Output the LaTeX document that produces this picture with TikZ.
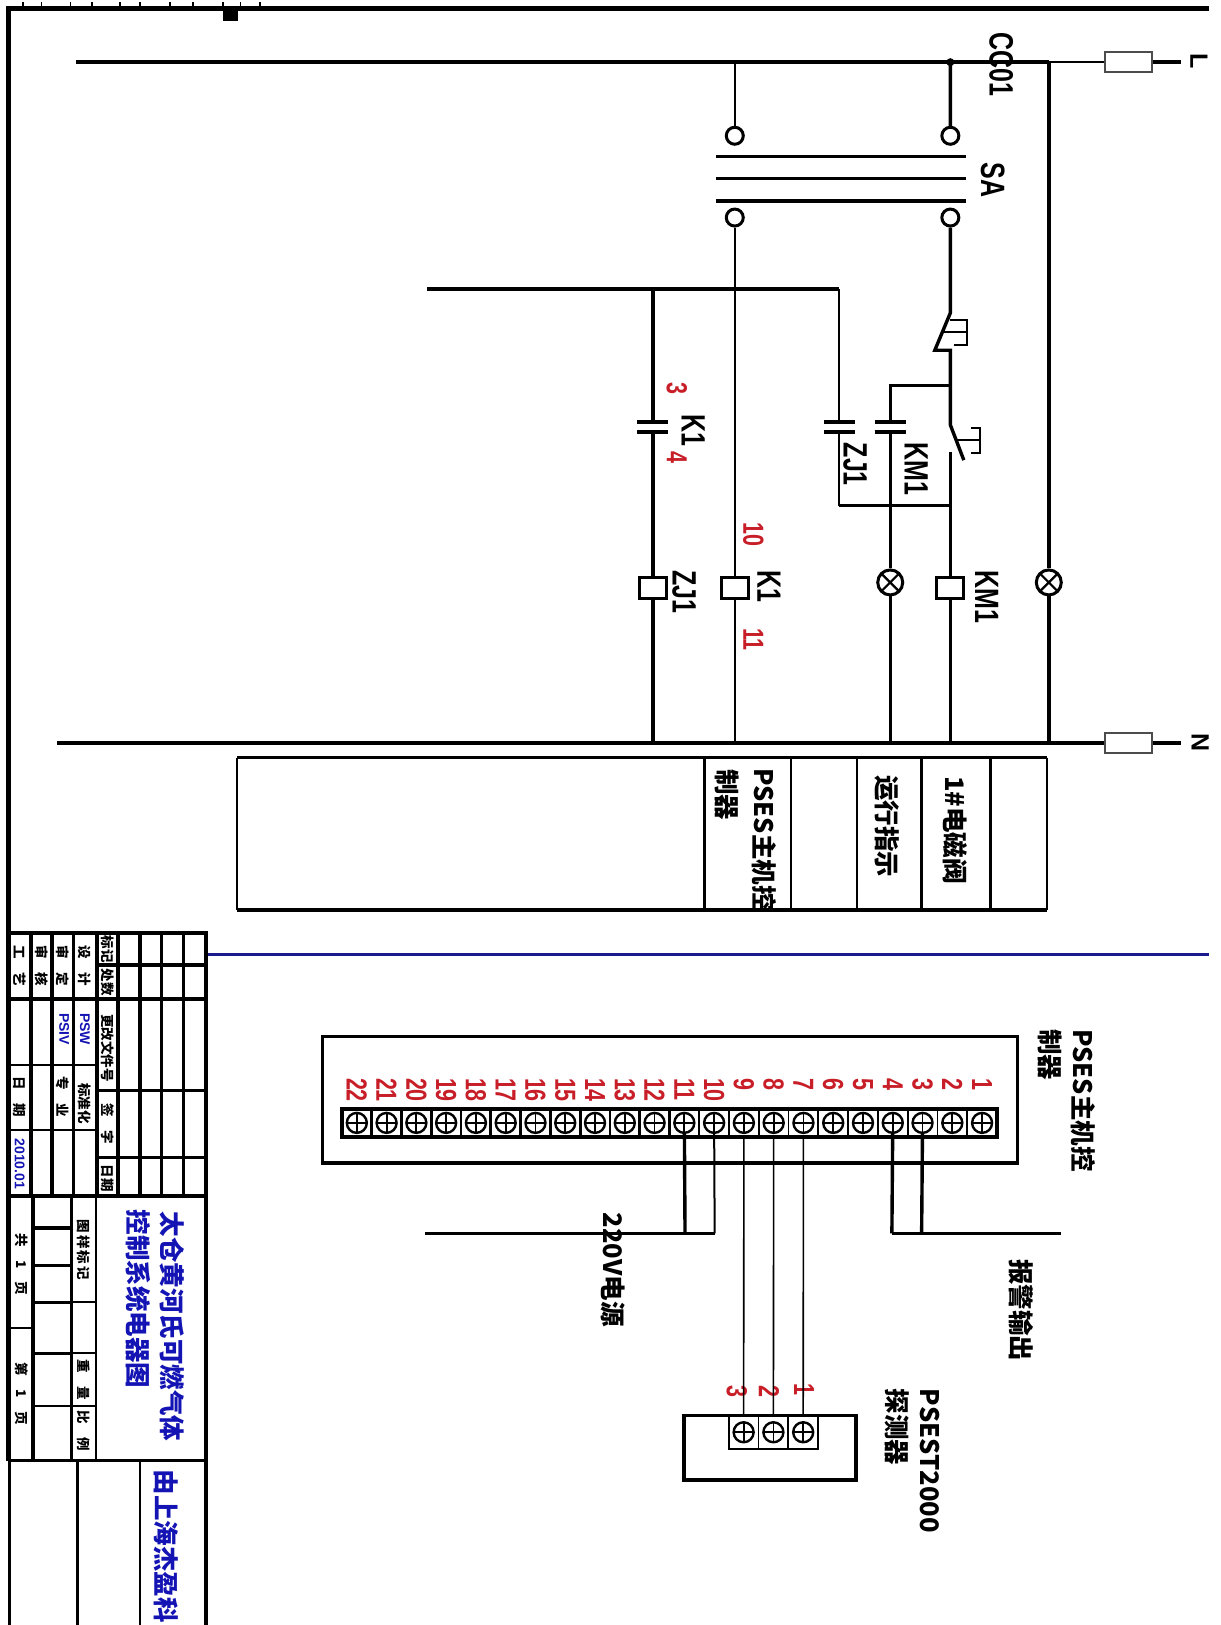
\documentclass[tikz,border=0pt]{standalone}
\usepackage{fontspec}
\usepackage{graphicx}
\usepackage{xcolor}
\usepackage{tikz}
\usetikzlibrary{positioning}
\setmainfont{Liberation Sans}
\newfontfamily\cjk{Noto Sans CJK SC}
\definecolor{titleblue}{HTML}{1414B4}
\definecolor{lineblue}{HTML}{1A1A8C}
\definecolor{termred}{HTML}{C81E28}
\newcommand{\widelbl}[1]{\scalebox{1}[1.35]{#1}}

\begin{document}
\begin{tikzpicture}[x=1.0365pt,y=-1.0365pt]
	\tikzstyle{wire}=[line width=3.4pt]
	\tikzstyle{thinwire}=[line width=2pt]
	\tikzstyle{hair}=[line width=1.6pt]
	\tikzstyle{ring}
	  =[draw, circle, line width=3pt, minimum size=17pt, inner sep=0pt, fill=white]
	\tikzstyle{lamp}
	  =[draw, circle, line width=3pt, minimum size=25pt, inner sep=0pt, fill=white,
	  path picture={\draw[line width=2.2pt] (path picture bounding box.north west) -- (path picture bounding box.south east)
	    (path picture bounding box.north east) -- (path picture bounding box.south west);}]
	\tikzstyle{coil}
	  =[draw, rectangle, line width=3pt, minimum width=27pt, minimum height=21pt, inner sep=0pt, fill=white]
	\tikzstyle{fuse}
	  =[draw=black!70, rectangle, line width=1.5pt, minimum width=47pt, minimum height=20pt, inner sep=0pt]
	\tikzstyle{contact}
	  =[rectangle, minimum width=31pt, minimum height=10pt, inner sep=0pt, outer sep=0pt]
	\tikzstyle{cell}
	  =[draw, rectangle, line width=1.8pt, minimum width=29.78pt, minimum height=28pt, inner sep=0pt, outer sep=0pt, fill=white]
	\tikzstyle{screw}
	  =[draw, circle, line width=2.4pt, minimum size=20pt, inner sep=0pt,
	  path picture={\draw[line width=1.8pt] (path picture bounding box.north) -- (path picture bounding box.south)
	    (path picture bounding box.east) -- (path picture bounding box.west);}]
	\tikzstyle{blk}
	  =[rotate=-90, inner sep=0pt, anchor=west, font=\fontsize{25}{25}\selectfont\bfseries]
	\tikzstyle{cn}
	  =[rotate=-90, inner sep=0pt, anchor=west, font=\fontsize{25.5}{25.5}\selectfont\bfseries\cjk]
	\tikzstyle{rno}
	  =[rotate=-90, inner sep=0pt, text=termred, font=\fontsize{21.5}{21.5}\selectfont\bfseries]
	\tikzstyle{tb}
	  =[rotate=-90, inner sep=0pt, font=\fontsize{13.5}{13.5}\selectfont\bfseries\cjk]

	\clip (0,0) rectangle (1178,1568);
	\fill[white] (0,0) rectangle (1178,1568);

	% sheet border
	\draw[line width=5.2pt] (1167,8) -- (8,8) -- (8,1410);
	\draw[line width=3.2pt] (9,1410) -- (9,1568);
	\foreach \tx in {22,40,68,89,116,135,164,186,215,232,251}
	  \draw[line width=1.6pt] (\tx,2) -- (\tx,7);
	\fill (215,8) rectangle (230,20);

	% fuses and bus ends
	\node[fuse] (fuseL)
	  at (1089,60) {};
	\node[fuse] (fuseN)
	  at (1089,717) {};
	\coordinate (LW) at (73,60);
	\coordinate (LE) at (1140,60);
	\coordinate (NW) at (55,717);
	\coordinate (NE) at (1140,717);
	\coordinate (LTapA) at (709,60);
	\coordinate (LTapB) at (917,60);
	\coordinate (LTapC) at (1012,60);
	\draw[wire] (LW) -- (LTapC);
	\draw[thinwire] (LTapC) -- (fuseL);
	\draw[wire] (fuseL) -- (LE);
	\draw[wire] (NW) -- (fuseN);
	\draw[wire] (fuseN) -- (NE);
	\node[blk] (lblL)
	  at (1157,51) {L};
	\node[blk] (lblN)
	  at (1158,708) {N};
	\fill (LTapB) circle (4pt);

	% selector SA
	\node[ring] (ringTL)
	  at (709,131) {};
	\node[ring] (ringTR)
	  [right=195.6pt of ringTL] {};
	\node[ring] (ringBL)
	  [below=61.8pt of ringTL] {};
	\node[ring] (ringBR)
	  [below=61.8pt of ringTR] {};
	\coordinate (saA) at (691,151);
	\coordinate (saB) at (932,151);
	\coordinate (saC) at (691,172);
	\coordinate (saD) at (932,172);
	\coordinate (saE) at (691,194);
	\coordinate (saF) at (932,194);
	\draw[wire] (saA) -- (saB);
	\draw[wire] (saC) -- (saD);
	\draw[wire] (saE) -- (saF);
	\draw[thinwire] (LTapA) -- (ringTL);
	\draw[wire] (LTapB) -- (ringTR);

	% coils, lamps, contacts
	\node[coil] (coilZJ)
	  at (630,567) {};
	\node[coil] (coilK)
	  at (709,567) {};
	\node[coil] (coilKM)
	  at (917,567) {};
	\node[lamp] (lampRun)
	  at (859,562) {};
	\node[lamp] (lampPow)
	  at (1012,562) {};
	\node[contact] (conK)
	  at (630,412) {};
	\node[contact] (conZJ)
	  at (810,412) {};
	\node[contact] (conKM)
	  at (859,412) {};
	\foreach \c in {conK,conZJ,conKM}
	  \draw[wire] (\c.north west) -- (\c.north east)
	    (\c.south west) -- (\c.south east);

	% named tee points
	\coordinate (feedW) at (412,279);
	\coordinate (feedA) at (630,279);
	\coordinate (feedB) at (810,279);
	\coordinate (sealL) at (810,488);
	\coordinate (sealM) at (859,488);
	\coordinate (sealR) at (917,488);
	\coordinate (holdL) at (859,372);
	\coordinate (holdR) at (917,372);
	\coordinate (nZJ) at (630,717);
	\coordinate (nK) at (709,717);
	\coordinate (nRun) at (859,717);
	\coordinate (nKM) at (917,717);
	\coordinate (nPow) at (1012,717);

	\draw[wire] (feedW) -- (feedB);
	\draw[wire] (feedA) -- (conK);
	\draw[wire] (conK) -- (coilZJ);
	\draw[wire] (coilZJ) -- (nZJ);
	\draw[thinwire] (ringBL) -- (coilK);
	\draw[thinwire] (coilK) -- (nK);
	\draw[thinwire] (feedB) -- (conZJ);
	\draw[thinwire] (conZJ) -- (sealL);
	\draw[wire] (sealL) -- (sealR);
	\draw[wire] (holdR) -- (holdL) -- (conKM);
	\draw[wire] (conKM) -- (lampRun);
	\draw[wire] (lampRun) -- (nRun);
	\draw[wire] (coilKM) -- (nKM);
	\draw[wire] (LTapC) -- (lampPow);
	\draw[wire] (lampPow) -- (nPow);

	% push buttons
	\coordinate (stopA) at (917,302);
	\coordinate (stopB) at (902,338);
	\coordinate (stopC) at (917,338);
	\coordinate (startA) at (917,410);
	\coordinate (startB) at (930,444);
	\coordinate (startC) at (917,436);
	\draw[wire] (ringBR) -- (stopA) -- (stopB) -- (stopC) -- (holdR) -- (startA) -- (startB);
	\draw[wire] (startC) -- (coilKM);
	\draw[thinwire] (910,320) -- (933,320);
	\draw[thinwire] (917,309) -- (933,309) -- (933,333) -- (921,333);
	\draw[thinwire] (923,425) -- (946,425);
	\draw[thinwire] (937,413) -- (946,413) -- (946,437) -- (937,437);

	% black labels
	\node[blk] (lblCC)
	  at (966,31) {\widelbl{CC01}};
	\node[blk] (lblSA)
	  at (958,157) {\widelbl{SA}};
	\node[blk] (lblK)
	  at (669,400) {\widelbl{K1}};
	\node[blk] (lblZJa)
	  at (825,427) {\widelbl{ZJ1}};
	\node[blk] (lblKMa)
	  at (884,427) {\widelbl{KM1}};
	\node[blk] (lblZJb)
	  at (660,550) {\widelbl{ZJ1}};
	\node[blk] (lblKb)
	  at (742,550) {\widelbl{K1}};
	\node[blk] (lblKMb)
	  at (952,550) {\widelbl{KM1}};
	\node[rno] (no3)
	  at (653,375) {\widelbl{3}};
	\node[rno] (no4)
	  at (653,441) {\widelbl{4}};
	\node[rno] (no10)
	  at (727,516) {\widelbl{10}};
	\node[rno] (no11)
	  at (727,617) {\widelbl{11}};

	% legend table under the bus
	\draw[wire] (229,731) -- (1010,731) (229,878) -- (1010,878);
	\draw[thinwire] (229,731) -- (229,878) (1010,731) -- (1010,878);
	\foreach \vx in {680,889,956}
	  \draw[wire] (\vx,731) -- (\vx,878);
	\foreach \vx in {763,827}
	  \draw[thinwire] (\vx,731) -- (\vx,878);
	\node[cn] (tabA)
	  at (737,741) {PSES主机控};
	\node[cn] (tabB)
	  at (702,742) {制器};
	\node[cn] (tabC)
	  at (856,748) {运行指示};
	\node[cn] (tabD)
	  at (922,749) {1\#电磁阀};

	\coordinate (blueW) at (199,921);
	\coordinate (blueE) at (1167,921);
	\draw[line width=3pt,lineblue] (blueW) -- (blueE);

	% main terminal box
	\draw[wire] (311,1000) rectangle (982,1122);
	\foreach \i in {1,...,22} {
	  \pgfmathsetmacro{\xt}{962-(\i-0.5)*28.73}
	  \pgfmathsetmacro{\lw}{\i>11 ? 2.8 : 1.8}
	  \node[cell,line width=\lw pt] (t\i) at (\xt,1083.5) {};
	  \node[screw] (s\i) at (t\i) {};
	  \node[rno,anchor=west] (n\i) at (\xt,1040) {\widelbl{\i}};
	}
	\draw[wire] (330,1070) rectangle (962,1097);

	\node[cn] (boxA)
	  at (1045,993) {PSES主机控};
	\node[cn] (boxB)
	  at (1013,993) {制器};

	% probe box
	\draw[wire] (660,1366) rectangle (826,1428);
	\node[cell,minimum height=33pt] (p1)
	  at (775,1382) {};
	\node[cell,minimum height=33pt] (p2)
	  [left=0pt of p1] {};
	\node[cell,minimum height=33pt] (p3)
	  [left=0pt of p2] {};
	\foreach \i in {1,2,3}
	  \node[screw] (ps\i) at (p\i) {};
	\node[rno] (pn1)
	  at (776,1341) {\widelbl{1}};
	\node[rno] (pn2)
	  at (742,1343) {\widelbl{2}};
	\node[rno] (pn3)
	  at (711,1343) {\widelbl{3}};
	\node[cn] (probeA)
	  at (897,1340) {PSEST2000};
	\node[cn] (probeB)
	  at (866,1340) {探测器};

	% field wiring
	\coordinate (pwW) at (410,1190);
	\coordinate (pwA) at (661,1190);
	\coordinate (pwB) at (689.6,1190);
	\coordinate (alA) at (860.6,1190);
	\coordinate (alB) at (889.3,1190);
	\coordinate (alE) at (1024,1190);
	\draw[wire] (pwW) -- (pwB);
	\draw[wire] (s11) -- (pwA);
	\draw[thinwire] (s10) -- (pwB);
	\draw[wire] (alA) -- (alE);
	\draw[wire] (s4) -- (alA);
	\draw[wire] (s3) -- (alB);
	\draw[hair] (t7.south) -- (p1.north);
	\draw[hair] (t8.south) -- (p2.north);
	\draw[hair] (t9.south) -- (p3.north);
	\node[cn] (lblPw)
	  at (592,1170) {220V电源};
	\node[cn] (lblAl)
	  at (985,1215) {报警输出};

	% title block
	\foreach \vx in {30,50,71,93.5,114,135,156,177}
	  \draw[wire] (\vx,900) -- (\vx,1154);
	\draw[line width=3.6pt] (8,900) -- (199,900) -- (199,1568);
	\foreach \hy in {964,1154,1409}
	  \draw[wire] (8,\hy) -- (199,\hy);
	\foreach \hy in {931,1052,1117}
	  \draw[wire] (93.5,\hy) -- (199,\hy);
	\foreach \hy in {1028,1090}
	  \draw[thinwire] (8,\hy) -- (93.5,\hy);
	\draw[wire] (32,1154) -- (32,1409);
	\draw[wire] (69,1154) -- (69,1409);
	\draw[thinwire] (92.3,1154) -- (92.3,1409);
	\draw[thinwire] (8,1281) -- (32,1281);
	\foreach \hy in {1185,1221,1257,1306}
	  \draw[wire] (32,\hy) -- (69,\hy);
	\draw[thinwire] (32,1357) -- (69,1357);
	\foreach \hy in {1256,1306,1357}
	  \draw[thinwire] (69,\hy) -- (92.3,\hy);
	\draw[wire] (75,1409) -- (75,1568);
	\draw[thinwire] (135,1409) -- (135,1568);

	\node[tb] (tGy) at (19,932) {工\quad 艺};
	\node[tb] (tSh) at (40,932) {审\quad 核};
	\node[tb] (tSd) at (60.5,932) {审\quad 定};
	\node[tb] (tSj) at (82,932) {设\quad 计};
	\node[tb] (tBj) at (103.5,916) {标记};
	\node[tb] (tCs) at (103.5,948) {处数};
	\node[tb] (tWj) at (103.5,1011) {更改文件号};
	\node[tb] (tQz) at (103.5,1084) {签\quad 字};
	\node[tb] (tRq) at (103.5,1137) {日期};
	\node[tb] (tRi) at (19,1058) {日\quad 期};
	\node[tb] (tZy) at (60.5,1058) {专\quad 业};
	\node[tb] (tBz) at (82,1065) {标准化};
	\node[tb,text=titleblue,font=\fontsize{14}{14}\selectfont\bfseries] (tPa) at (82,993) {PSW};
	\node[tb,text=titleblue,font=\fontsize{14}{14}\selectfont\bfseries] (tPb) at (62,993) {PSIV};
	\node[tb,text=titleblue,font=\fontsize{14}{14}\selectfont\bfseries] (tDa) at (19,1123) {2010.01};
	\node[tb] (tTy) at (21,1220) {共\quad 1\quad 页};
	\node[tb] (tDy) at (21,1345) {第\quad 1\quad 页};
	\node[tb] (tTb) at (81,1206) {图\,样\,标\,记};
	\node[tb] (tZl) at (81,1331) {重\quad 量};
	\node[tb] (tBl) at (81,1381) {比\quad 例};
	\node[cn,text=titleblue] (nameA)
	  at (166,1169) {太仓黄河氏可燃气体};
	\node[cn,text=titleblue] (nameB)
	  at (133,1167) {控制系统电器图};
	\node[cn,text=titleblue] (nameC)
	  at (160,1418) {由上海杰盈科};
\end{tikzpicture}
\end{document}
